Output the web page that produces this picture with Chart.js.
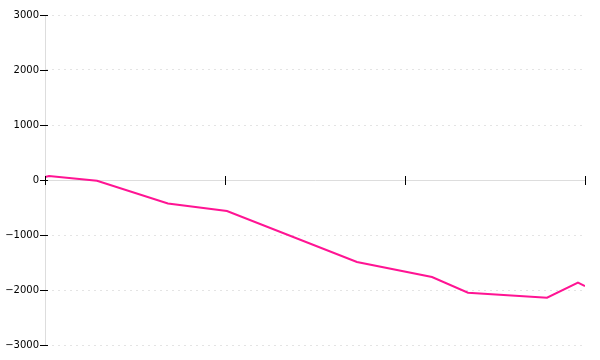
<!DOCTYPE html>
<html>
<head>
<meta charset="utf-8">
<script src="https://cdn.jsdelivr.net/npm/chart.js@4/dist/chart.umd.min.js"></script>
<style>
  html, body { margin: 0; padding: 0; background: #fff; }
  #wrap { width: 600px; height: 360px; }
</style>
</head>
<body>
<div id="wrap"><canvas id="c" width="600" height="360"></canvas></div>
<script>
// x positions (axis runs 0..3, ticks at 0,1,2,3, no labels shown)
const xValues = [0, 0.022, 0.289, 0.683, 1.011, 1.733, 2.15, 2.35, 2.789, 2.961, 3.0];
const yValues = [55, 73, -13, -427, -564, -1490, -1764, -2049, -2140, -1867, -1927];
const xTicks = [0, 1, 2, 3];
const yTicks = [-3000, -2000, -1000, 0, 1000, 2000, 3000];

const points = xValues.map((x, i) => ({ x: x, y: yValues[i] }));

const crossTicks = {
  id: 'crossTicks',
  afterDraw(chart) {
    const ctx = chart.ctx;
    const xs = chart.scales.x, ys = chart.scales.y;
    const y0 = Math.round(ys.getPixelForValue(0)) + 0.5;
    ctx.save();
    ctx.strokeStyle = '#000';
    ctx.lineWidth = 1;
    ctx.beginPath();
    xs.ticks.forEach(t => {
      const px = Math.round(xs.getPixelForValue(t.value)) + 0.5;
      ctx.moveTo(px, y0 - 4.5);
      ctx.lineTo(px, y0 + 4.5);
    });
    const left = chart.chartArea.left;
    ys.ticks.forEach(t => {
      const py = Math.round(ys.getPixelForValue(t.value)) + 0.5;
      ctx.moveTo(left - 5, py);
      ctx.lineTo(left + 3, py);
    });
    ctx.stroke();
    ctx.restore();
  }
};

new Chart(document.getElementById('c'), {
  type: 'line',
  data: {
    datasets: [{
      data: points,
      borderColor: '#ff1493',
      borderWidth: 2,
      pointRadius: 0,
      tension: 0,
      fill: false
    }]
  },
  options: {
    responsive: false,
    animation: false,
    layout: { padding: { top: 15, right: 15, bottom: 15, left: 0 } },
    plugins: { legend: { display: false }, tooltip: { enabled: false } },
    scales: {
      x: {
        type: 'linear',
        position: { y: 0 },
        min: 0,
        max: 3,
        afterBuildTicks: s => { s.ticks = xTicks.map(v => ({ value: v })); },
        ticks: { display: false },
        grid: { display: false },
        border: { display: true, color: '#dddddd', width: 1 }
      },
      y: {
        type: 'linear',
        position: 'left',
        min: -3000,
        max: 3000,
        afterBuildTicks: s => { s.ticks = yTicks.map(v => ({ value: v })); },
        afterFit: s => { s.width = 45; },
        ticks: {
          color: '#000',
          padding: 1,
          font: { family: 'DejaVu Sans', size: 10 },
          callback: v => (v < 0 ? '\u2212' + Math.abs(v) : String(v))
        },
        grid: {
          drawTicks: true,
          tickLength: 5,
          tickColor: 'rgba(0,0,0,0)',
          color: c => (c.tick && c.tick.value === 0 ? 'rgba(0,0,0,0)' : '#e4e4e4'),
          lineWidth: 1
        },
        border: { display: true, color: '#dddddd', width: 1, dash: [2, 4], dashOffset: 0 }
      }
    }
  },
  plugins: [crossTicks]
});
</script>
</body>
</html>
